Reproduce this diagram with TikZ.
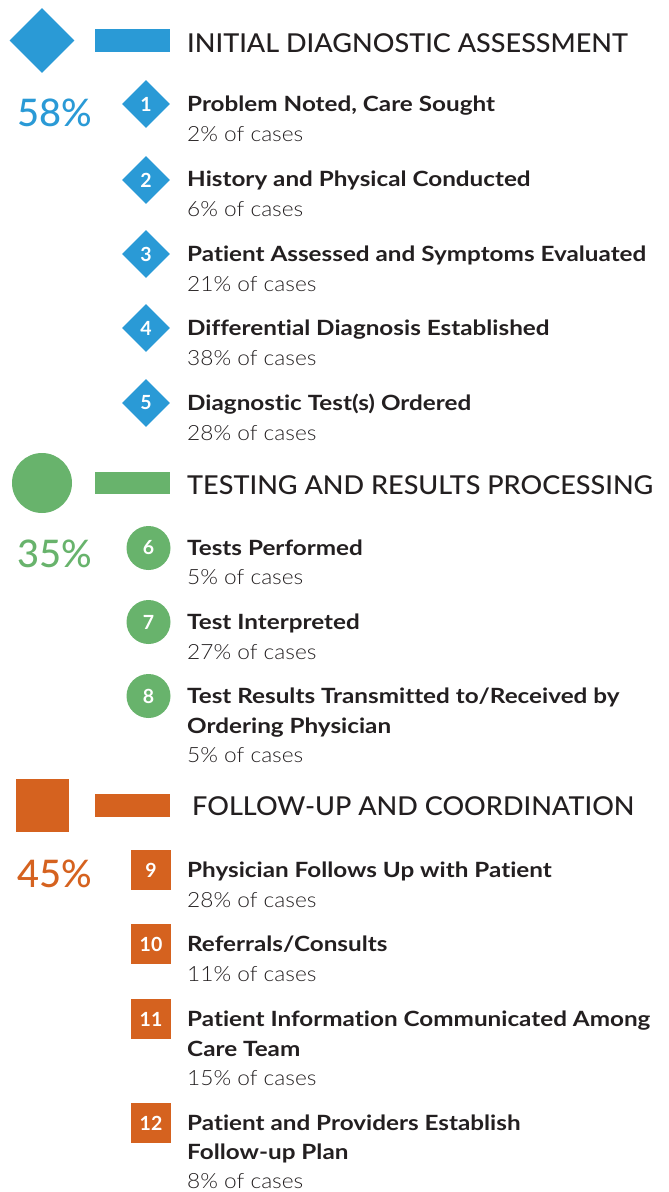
\documentclass[tikz,border=0pt]{standalone}
\usepackage{fontspec}
\setmainfont{Lato}
\newfontfamily\hdrfont[FakeStretch=1.04]{Lato Medium}
\newfontfamily\pctfont{Lato Medium}
\newfontfamily\ttlfont[FakeStretch=1.155,Ligatures=NoCommon]{Lato Bold}
\newfontfamily\subfont[FakeStretch=1.08]{Lato Light}
\usetikzlibrary{shapes.geometric}
\definecolor{cblue}{HTML}{2A9AD6}
\definecolor{cgreen}{HTML}{68B36C}
\definecolor{corange}{HTML}{D5621F}
\definecolor{ink}{HTML}{231F20}
\begin{document}
\begin{tikzpicture}[x=1pt,y=-1pt,
  hdr/.style={anchor=base west, inner sep=0, text=ink, font=\hdrfont\fontsize{26}{30}\selectfont},
  pct/.style={anchor=base, inner sep=0, font=\pctfont\fontsize{38}{42}\selectfont},
  ttl/.style={anchor=base west, inner sep=0, text=ink, font=\ttlfont\fontsize{21}{29.5}\selectfont, align=left},
  sub/.style={anchor=base west, inner sep=0, text=ink, font=\subfont\fontsize{21}{24}\selectfont},
  num/.style={text=white, inner sep=0, font=\bfseries\fontsize{19.5}{22}\selectfont},
  bar/.style={fill=#1, draw=none, rectangle, inner sep=0, minimum width=75, minimum height=22.5},
  dmark/.style={num, fill=cblue, diamond, minimum width=48, minimum height=48},
  cmark/.style={num, fill=cgreen, circle, minimum size=44},
  smark/.style={num, fill=corange, rectangle, minimum size=40},
]
\useasboundingbox (0,0) rectangle (669,1192);

% ---------- Section 1 ----------
\node[fill=cblue, diamond, inner sep=0, minimum width=65, minimum height=65] (h1shape) at (42,40.5) {};
\node[bar=cblue] (h1bar) at (132.5,40.5) {};
\node[hdr] (h1) at (187,52) {INITIAL DIAGNOSTIC ASSESSMENT};
\node[pct, text=cblue] (p1) at (54.5,126) {58\%};

\node[dmark] (m1) at (146,104) {1};
\node[ttl] (t1) at (187,111.5) {Problem Noted, Care Sought};
\node[sub] (s1) at (187,141) {2\% of cases};

\node[dmark] (m2) at (146,180) {2};
\node[ttl] (t2) at (187,186.5) {History and Physical Conducted};
\node[sub] (s2) at (187,216) {6\% of cases};

\node[dmark] (m3) at (146,254) {3};
\node[ttl] (t3) at (187,261.5) {Patient Assessed and Symptoms Evaluated};
\node[sub] (s3) at (187,291) {21\% of cases};

\node[dmark] (m4) at (146,328) {4};
\node[ttl] (t4) at (187,335) {Differential Diagnosis Established};
\node[sub] (s4) at (187,365) {38\% of cases};

\node[dmark] (m5) at (146,403) {5};
\node[ttl] (t5) at (187,410) {Diagnostic Test(s) Ordered};
\node[sub] (s5) at (187,440) {28\% of cases};

% ---------- Section 2 ----------
\node[fill=cgreen, circle, inner sep=0, minimum size=60] (h2shape) at (42,483) {};
\node[bar=cgreen] (h2bar) at (132.5,483) {};
\node[hdr] (h2) at (187,494.3) {TESTING AND RESULTS PROCESSING};
\node[pct, text=cgreen] (p2) at (54.5,567.5) {35\%};

\node[cmark] (m6) at (148.5,548) {6};
\node[ttl] (t6) at (187,555) {Tests Performed};
\node[sub] (s6) at (187,584.5) {5\% of cases};

\node[cmark] (m7) at (148.5,622) {7};
\node[ttl] (t7) at (187,629.5) {Test Interpreted};
\node[sub] (s7) at (187,659) {27\% of cases};

\node[cmark] (m8) at (148.5,696) {8};
\node[ttl] (t8) at (187,733) {Test Results Transmitted to/Received by\\Ordering Physician};
\node[sub] (s8) at (187,762.5) {5\% of cases};

% ---------- Section 3 ----------
\node[fill=corange, rectangle, inner sep=0, minimum size=53] (h3shape) at (42.5,805.5) {};
\node[bar=corange] (h3bar) at (132.5,805.5) {};
\node[hdr] (h3) at (192,815.7) {FOLLOW-UP AND COORDINATION};
\node[pct, text=corange] (p3) at (54.5,887.5) {45\%};

\node[smark] (m9) at (151,870) {9};
\node[ttl] (t9) at (187,877.5) {Physician Follows Up with Patient};
\node[sub] (s9) at (187,907) {28\% of cases};

\node[smark] (m10) at (151,944) {10};
\node[ttl] (t10) at (187,951.5) {Referrals/Consults};
\node[sub] (s10) at (187,981.5) {11\% of cases};

\node[smark] (m11) at (151,1019) {11};
\node[ttl] (t11) at (187,1056) {Patient Information Communicated Among\\Care Team};
\node[sub] (s11) at (187,1085.5) {15\% of cases};

\node[smark] (m12) at (151,1123) {12};
\node[ttl] (t12) at (187,1159.5) {Patient and Providers Establish\\Follow-up Plan};
\node[sub] (s12) at (187,1188.5) {8\% of cases};
\end{tikzpicture}
\end{document}
